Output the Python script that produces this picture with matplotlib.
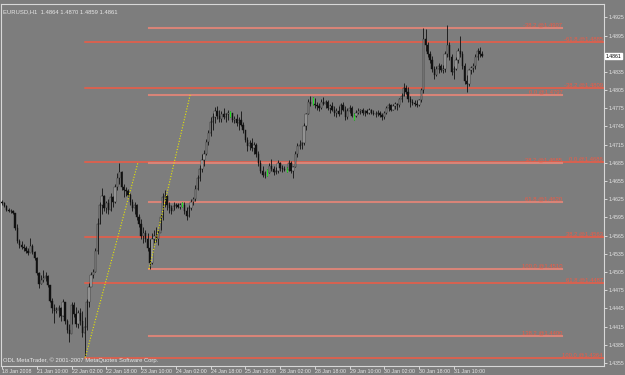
import numpy as np
import matplotlib.pyplot as plt
from matplotlib.patches import Rectangle

plt.rcParams['font.family'] = ['Liberation Sans', 'DejaVu Sans']

# EURUSD H1, цены в пунктах от 1.4000 (618 -> 1.4618)
first_open = 621
high = [624, 620, 615, 610, 609, 607, 600, 585, 560, 556, 552, 548, 545, 561, 552, 540,
        530, 505, 500, 508, 505, 500, 484, 462, 452, 448, 450, 447, 460, 452, 428, 420,
        456, 455, 447, 443, 446, 440, 430, 460, 487, 505, 510, 545, 594, 620, 643, 632,
        622, 625, 635, 630, 650, 668, 685, 672, 650, 645, 642, 636, 625, 620, 617, 600,
        592, 580, 574, 570, 560, 569, 575, 579, 575, 600, 635, 640, 632, 620, 615, 620,
        618, 619, 618, 621, 620, 612, 615, 625, 628, 648, 665, 682, 700, 706, 725, 739,
        760, 767, 777, 778, 772, 770, 775, 768, 772, 770, 768, 762, 765, 760, 770, 752,
        740, 728, 722, 726, 720, 718, 705, 690, 680, 672, 675, 685, 692, 680, 678, 689,
        686, 682, 680, 678, 690, 688, 680, 705, 717, 722, 720, 750, 768, 790, 796, 793,
        792, 785, 784, 790, 793, 788, 788, 782, 785, 778, 775, 778, 784, 785, 778, 775,
        780, 778, 768, 772, 775, 774, 775, 772, 774, 775, 774, 772, 770, 772, 770, 768,
        770, 778, 783, 782, 782, 785, 784, 792, 800, 816, 814, 810, 795, 791, 788, 788,
        790, 808, 908, 905, 885, 870, 862, 845, 845, 849, 848, 846, 870, 912, 885, 865,
        845, 860, 875, 895, 870, 850, 830, 840, 845, 850, 865, 875, 876, 870]
low = [615, 612, 606, 604, 603, 600, 575, 553, 545, 543, 540, 536, 533, 540, 535, 525,
       500, 478, 485, 488, 490, 480, 455, 437, 421, 437, 430, 425, 432, 420, 404, 390,
       420, 430, 414, 413, 418, 398, 366, 410, 447, 485, 495, 505, 535, 585, 600, 605,
       602, 600, 605, 612, 618, 640, 650, 640, 628, 630, 628, 615, 605, 600, 590, 579,
       560, 553, 555, 540, 510, 518, 553, 555, 550, 575, 590, 612, 608, 602, 600, 608,
       610, 610, 609, 612, 600, 591, 596, 608, 615, 622, 640, 655, 670, 680, 698, 715,
       730, 740, 750, 758, 752, 752, 757, 752, 755, 760, 752, 750, 745, 740, 745, 734,
       720, 705, 706, 705, 700, 695, 680, 668, 662, 660, 664, 668, 672, 665, 666, 668,
       672, 670, 671, 670, 672, 668, 660, 678, 695, 708, 708, 715, 740, 765, 778, 780,
       775, 772, 770, 774, 780, 776, 772, 768, 770, 762, 760, 763, 766, 770, 755, 758,
       768, 760, 755, 760, 765, 766, 764, 763, 765, 766, 765, 764, 760, 762, 760, 755,
       758, 766, 770, 770, 772, 774, 772, 777, 785, 795, 798, 785, 777, 780, 778, 777,
       778, 785, 800, 870, 860, 850, 835, 824, 828, 834, 835, 833, 835, 860, 855, 830,
       824, 838, 850, 860, 840, 815, 802, 812, 832, 835, 840, 855, 860, 859]
close = [618, 614, 608, 606, 605, 602, 578, 556, 550, 547, 545, 540, 536, 548, 538, 528,
         503, 485, 492, 495, 498, 483, 458, 445, 440, 442, 445, 432, 455, 425, 410, 402,
         450, 435, 420, 438, 425, 405, 415, 455, 480, 500, 505, 540, 585, 615, 630, 610,
         618, 608, 628, 620, 645, 660, 670, 645, 640, 638, 632, 620, 610, 615, 595, 585,
         565, 570, 560, 545, 520, 560, 565, 560, 570, 595, 628, 630, 615, 610, 605, 614,
         615, 612, 616, 616, 605, 598, 610, 620, 625, 642, 660, 675, 690, 700, 720, 735,
         752, 760, 770, 762, 758, 765, 760, 765, 768, 768, 755, 758, 750, 755, 748, 740,
         722, 712, 718, 710, 715, 700, 685, 672, 665, 668, 668, 680, 675, 670, 672, 685,
         676, 675, 674, 674, 685, 672, 678, 700, 712, 715, 718, 745, 765, 785, 782, 782,
         780, 778, 775, 786, 782, 785, 775, 778, 772, 768, 770, 765, 780, 772, 760, 770,
         776, 762, 762, 768, 770, 772, 768, 770, 768, 772, 768, 766, 765, 768, 764, 760,
         768, 775, 780, 772, 778, 782, 780, 790, 795, 808, 802, 790, 785, 783, 782, 780,
         788, 805, 890, 880, 865, 855, 840, 830, 840, 845, 838, 840, 865, 880, 860, 835,
         840, 855, 870, 865, 845, 820, 815, 838, 842, 845, 860, 870, 865, 861]

# Уровни Фибоначчи: (процент, цена)
fib_a_levels = [100.0, 61.8, 38.2, 0.0, -38.2, -61.8]
fib_a_prices = [1.4364, 1.4487, 1.4563, 1.4686, 1.4809, 1.4885]
fib_b_levels = [138.2, 100.0, 61.8, 38.2, 0.0, -38.2]
fib_b_prices = [1.4400, 1.4510, 1.4620, 1.4685, 1.4797, 1.4907]
# опорные точки (бар, цена) для пунктирных линий
fib_a_anchor = [(38.3, 1.4364), (62.6, 1.4686)]
fib_b_anchor = [(67.7, 1.4510), (86.6, 1.4797)]
fib_b_end = 258

x_ticks = [0, 16, 32, 48, 64, 80, 96, 112, 128, 144, 160, 176, 192, 208]
x_labels = ['18 Jan 2008', '21 Jan 10:00', '22 Jan 02:00', '22 Jan 18:00', '23 Jan 10:00',
            '24 Jan 02:00', '24 Jan 18:00', '25 Jan 10:00', '28 Jan 02:00', '28 Jan 18:00',
            '29 Jan 10:00', '30 Jan 02:00', '30 Jan 18:00', '31 Jan 10:00']
# 1.4865 закрыта плашкой текущей цены
y_ticks = [1.4355, 1.4385, 1.4415, 1.4445, 1.4475, 1.4505, 1.4535, 1.4565, 1.4595,
           1.4625, 1.4655, 1.4685, 1.4715, 1.4745, 1.4775, 1.4805, 1.4835,
           1.4895, 1.4925]
last_price = 1.4861

bg = '#7d7d7d'
fg = '#e6e6e6'
red_a = '#f05a44'
red_b = '#d88478'

h = 1.4 + np.array(high) / 10000
l = 1.4 + np.array(low) / 10000
c = 1.4 + np.array(close) / 10000
o = np.concatenate([[1.4 + first_open / 10000], c[:-1]])
x = np.arange(len(c))

fig = plt.figure(figsize=(6.25, 3.75), dpi=100, facecolor=bg)
ax = fig.add_axes([1 / 625, 9 / 375, 603 / 625, 362 / 375])
ax.set_facecolor(bg)
ax.set_xlim(-0.5, 277.2)
ax.set_ylim(1.4350, 1.4947)

# Фибоначчи
for lev, p in zip(fib_a_levels, fib_a_prices):
    ax.plot([fib_a_anchor[0][0], 277.2], [p, p], color=red_a, lw=1.1, zorder=1)
    ax.text(276.6, p + 0.00008, '%.1f @%.4f' % (lev, p), color=red_a, fontsize=4.2,
            ha='right', va='bottom', zorder=4)
for lev, p in zip(fib_b_levels, fib_b_prices):
    ax.plot([fib_b_anchor[0][0], fib_b_end], [p, p], color=red_b, lw=1.5, zorder=1)
    ax.text(fib_b_end, p + 0.00008, '%.1f @%.4f' % (lev, p), color=red_a, fontsize=4.2,
            ha='right', va='bottom', zorder=4)

# Свечи
ax.vlines(x, l, h, color='#111111', lw=0.6, zorder=2)
for i in range(len(c)):
    if o[i] == c[i]:
        ax.vlines(x[i], l[i], h[i], color='#22dd22', lw=0.8, zorder=3)
        continue
    col = '#111111' if c[i] < o[i] else '#b4b4b4'
    ax.add_patch(Rectangle((x[i] - 0.3, min(o[i], c[i])), 0.6, abs(c[i] - o[i]),
                           facecolor=col, edgecolor='#111111', lw=0.3, zorder=3))

for anchor in (fib_a_anchor, fib_b_anchor):
    ax.plot([anchor[0][0], anchor[1][0]], [anchor[0][1], anchor[1][1]],
            color='#e8e800', lw=0.8, ls=(0, (1, 1.5)), zorder=5)

for s in ax.spines.values():
    s.set_color('#d8d8d8')
    s.set_linewidth(0.8)

ax.yaxis.tick_right()
ax.set_yticks(y_ticks)
ax.set_yticklabels(['%.4f' % v for v in y_ticks])
ax.tick_params(axis='y', colors=fg, labelsize=3.7, length=2, width=0.6, pad=1)
ax.set_xticks(x_ticks)
ax.set_xticklabels(x_labels, ha='left')
ax.tick_params(axis='x', colors=fg, labelsize=3.8, length=2, width=0.6, pad=0.5)

ax.annotate('%.4f' % last_price, xy=(1.0, last_price), xycoords=('axes fraction', 'data'),
            xytext=(1, 0), textcoords='offset points', fontsize=3.7, color='black',
            va='center', ha='left',
            bbox=dict(boxstyle='square,pad=0.12', fc='white', ec='white'))

ax.text(0.004, 0.985, 'EURUSD,H1  1.4864 1.4870 1.4859 1.4861', transform=ax.transAxes,
        color=fg, fontsize=4.2, va='top', ha='left')
ax.text(0.004, 0.008, 'ODL MetaTrader, \u00a9 2001-2007 MetaQuotes Software Corp.',
        transform=ax.transAxes, color=fg, fontsize=4.2, va='bottom', ha='left')

fig.savefig('out.png', dpi=100, facecolor=bg)
